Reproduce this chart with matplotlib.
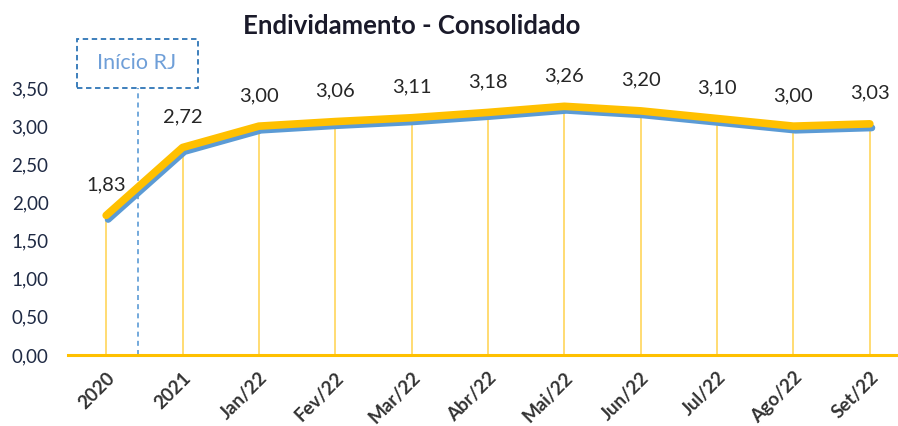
import matplotlib.pyplot as plt
import matplotlib.transforms as mtransforms
from matplotlib.patches import Rectangle

# data
categorias = ["2020", "2021", "Jan/22", "Fev/22", "Mar/22", "Abr/22",
              "Mai/22", "Jun/22", "Jul/22", "Ago/22", "Set/22"]
valores = [1.83, 2.72, 3.00, 3.06, 3.11, 3.18, 3.26, 3.20, 3.10, 3.00, 3.03]
rotulos = ["1,83", "2,72", "3,00", "3,06", "3,11", "3,18", "3,26", "3,20", "3,10", "3,00", "3,03"]
yticks = [0.0, 0.5, 1.0, 1.5, 2.0, 2.5, 3.0, 3.5]
ytick_labels = ["0,00", "0,50", "1,00", "1,50", "2,00", "2,50", "3,00", "3,50"]
inicio_rj = 0.42   # position of the dashed marker between 2020 and 2021

plt.rcParams['font.family'] = ['Lato', 'DejaVu Sans']

fig = plt.figure(figsize=(8.98, 4.26), dpi=100)
ax = fig.add_axes([68/898, 71/426, 840/898, 267/426])

x = list(range(len(categorias)))

# drop lines from each point down to the axis
for xi, v in zip(x, valores):
    ax.plot([xi, xi], [0, v], color="#FFD24D", lw=1.1, zorder=1)

# blue "shadow" line, shifted a bit down/right
shadow = ax.transData + mtransforms.ScaledTranslation(2/100, -4/100, fig.dpi_scale_trans)
ax.plot(x, valores, color="#5B9BD5", lw=5, solid_capstyle="round",
        solid_joinstyle="round", transform=shadow, zorder=2)
ax.plot(x, valores, color="#FFC000", lw=5.5, solid_capstyle="round",
        solid_joinstyle="round", zorder=3)

# value labels
for xi, v, r in zip(x, valores, rotulos):
    ax.annotate(r, (xi, v), xytext=(0, 22), textcoords="offset points",
                ha="center", va="center", fontsize=14.5, color="#262626")

# Inicio RJ marker
ax.plot([inicio_rj, inicio_rj], [0, 3.6], color="#5B9BD5", lw=1.2,
        ls=(0, (3, 2.5)), zorder=1, clip_on=False)
box_tr = mtransforms.blended_transform_factory(ax.transData, fig.transFigure)
ax.add_patch(Rectangle((-0.38, (426-88)/426), 1.58, 49/426, transform=box_tr,
                       fill=True, facecolor="white", edgecolor="#2E75B6", lw=1.3,
                       ls=(0, (3, 2)), clip_on=False, zorder=4))
fig.text(137/898, (426-63)/426, "Início RJ", ha="center", va="center",
         fontsize=15.5, color="#6F9FD8", zorder=5)

ax.set_xlim(-0.5, len(categorias) - 0.5)
ax.set_ylim(0, 3.5)
ax.set_yticks(yticks)
ax.set_yticklabels(ytick_labels, fontsize=13.5, color="#1F2A44")
ax.set_xticks(x)
ax.set_xticklabels(categorias, rotation=45, ha="right", rotation_mode="anchor",
                   fontsize=13.5, fontweight="bold", color="#333333")
ax.tick_params(axis="both", length=0)
ax.tick_params(axis="x", pad=10)
ax.tick_params(axis="y", pad=14)

for s in ["top", "right", "left"]:
    ax.spines[s].set_visible(False)
ax.spines["bottom"].set_color("#FFC000")
ax.spines["bottom"].set_linewidth(2.2)

fig.text(412/898, (426-26)/426, "Endividamento - Consolidado", ha="center", va="center",
         fontsize=18.5, fontweight="bold", color="#1a1a2a")

fig.savefig("out.png", dpi=100)
